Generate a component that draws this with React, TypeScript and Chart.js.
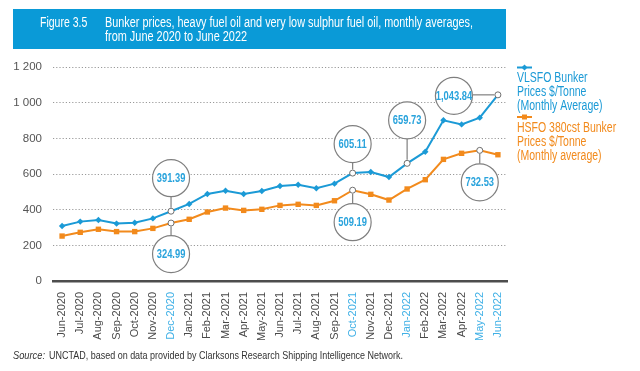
import React, { useEffect, useRef } from 'react';
import { Chart, registerables } from 'chart.js';

Chart.register(...registerables);

const categories = [
  'Jun-2020', 'Jul-2020', 'Aug-2020', 'Sep-2020', 'Oct-2020', 'Nov-2020', 'Dec-2020',
  'Jan-2021', 'Feb-2021', 'Mar-2021', 'Apr-2021', 'May-2021', 'Jun-2021', 'Jul-2021',
  'Aug-2021', 'Sep-2021', 'Oct-2021', 'Nov-2021', 'Dec-2021',
  'Jan-2022', 'Feb-2022', 'Mar-2022', 'Apr-2022', 'May-2022', 'Jun-2022',
];

const vlsfo = [
  308, 333, 342, 322, 327, 351, 391.39,
  432, 488, 506, 488, 505, 533, 540, 520, 546, 605.11, 611, 583,
  659.73, 725, 901, 878, 916, 1043.84,
];

const hsfo = [
  252, 273, 290, 277, 277, 295, 324.99,
  346, 387, 409, 396, 402, 424, 430, 424, 450, 509.19, 486, 454,
  516, 568, 682, 716, 732.53, 708,
];

const yTicks = [0, 200, 400, 600, 800, 1000, 1200];

const vlsfoLabelLines = ['VLSFO Bunker', 'Prices $/Tonne', '(Monthly Average)'];
const hsfoLabelLines = ['HSFO 380cst Bunker', 'Prices $/Tonne', '(Monthly average)'];

const vlsfoAnnotated = [6, 16, 19, 24];
const hsfoAnnotated = [6, 16, 23];
const highlightedLabels = [6, 16, 19, 23, 24];

const titleNumber = 'Figure 3.5';
const titleLines = [
  'Bunker prices, heavy fuel oil and very low sulphur fuel oil, monthly averages,',
  'from June 2020 to June 2022',
];
const sourceLabel = 'Source:';
const sourceText = 'UNCTAD, based on data provided by Clarksons Research Shipping Intelligence Network.';

// style
const BLUE = '#1b9ad6';
const ORANGE = '#f28a1c';
const ANN_TEXT = '#29a3dc';
const BAR = '#0a9ad7';
const FONT = "'Liberation Sans', Arial, sans-serif";

// annotation bubble placement (pixel offsets from the point)
const annotationStyle: { ds: number; idx: number; dx: number; dy: number }[] = [
  { ds: 0, idx: 6, dx: 0, dy: -33 },
  { ds: 0, idx: 16, dx: 0, dy: -29 },
  { ds: 0, idx: 19, dx: 0, dy: -43 },
  { ds: 0, idx: 24, dx: -44, dy: 1 },
  { ds: 1, idx: 6, dx: 0, dy: 31 },
  { ds: 1, idx: 16, dx: 0, dy: 32 },
  { ds: 1, idx: 23, dx: 0, dy: 32 },
];

const fmt = (v: number) =>
  v.toLocaleString('en-US', { minimumFractionDigits: 2, maximumFractionDigits: 2 });

// condensed text: draw with a horizontal squeeze factor
const fillCond = (ctx: CanvasRenderingContext2D, text: string, x: number, y: number, f: number) => {
  const w = ctx.measureText(text).width;
  ctx.fillText(text, x, y, w * f);
};

const decorPlugin = {
  id: 'decor',
  beforeDraw(chart: any) {
    const ctx = chart.ctx as CanvasRenderingContext2D;
    ctx.save();
    ctx.fillStyle = '#ffffff';
    ctx.fillRect(0, 0, chart.width, chart.height);
    ctx.fillStyle = BAR;
    ctx.fillRect(13, 9, 493, 40);
    ctx.fillStyle = '#ffffff';
    ctx.font = `14px ${FONT}`;
    ctx.textBaseline = 'middle';
    ctx.textAlign = 'left';
    fillCond(ctx, titleNumber, 40, 23.5, 0.75);
    ctx.fillText(titleLines[0], 105, 23.5, 368);
    fillCond(ctx, titleLines[1], 105, 37.5, 0.78);

    // source
    ctx.fillStyle = '#333333';
    ctx.font = `italic 11px ${FONT}`;
    ctx.fillText(sourceLabel, 13, 356, 32);
    ctx.font = `11px ${FONT}`;
    ctx.fillText(sourceText, 49, 356, 354);
    ctx.restore();
  },
  afterDatasetsDraw(chart: any) {
    const ctx = chart.ctx as CanvasRenderingContext2D;
    ctx.save();
    const r = 18.5;
    for (const a of annotationStyle) {
      const el = chart.getDatasetMeta(a.ds).data[a.idx];
      const px = el.x;
      const py = el.y;
      const cx = px + a.dx;
      const cy = py + a.dy;
      ctx.strokeStyle = '#7f7f7f';
      ctx.lineWidth = 1.2;
      ctx.beginPath();
      if (a.dx === 0) {
        const s = Math.sign(a.dy);
        ctx.moveTo(px, py + s * 3.5);
        ctx.lineTo(cx, cy - s * r);
      } else {
        ctx.moveTo(px - 3.5, py);
        ctx.lineTo(cx + r, py);
      }
      ctx.stroke();
      ctx.beginPath();
      ctx.arc(cx, cy, r, 0, Math.PI * 2);
      ctx.fillStyle = '#ffffff';
      ctx.fill();
      ctx.stroke();
      ctx.fillStyle = ANN_TEXT;
      ctx.font = `bold 12px ${FONT}`;
      ctx.textAlign = 'center';
      ctx.textBaseline = 'middle';
      const v = (a.ds === 0 ? vlsfo : hsfo)[a.idx];
      fillCond(ctx, fmt(v), cx, cy + 0.5, 0.78);
    }
    ctx.restore();
  },
  afterDraw(chart: any) {
    const ctx = chart.ctx as CanvasRenderingContext2D;
    ctx.save();
    const drawEntry = (y: number, color: string, style: string, lines: string[]) => {
      ctx.strokeStyle = color;
      ctx.fillStyle = color;
      ctx.lineWidth = 2;
      ctx.beginPath();
      ctx.moveTo(517, y);
      ctx.lineTo(532, y);
      ctx.stroke();
      ctx.beginPath();
      if (style === 'rectRot') {
        ctx.moveTo(524.5, y - 3);
        ctx.lineTo(527.5, y);
        ctx.lineTo(524.5, y + 3);
        ctx.lineTo(521.5, y);
        ctx.closePath();
      } else {
        ctx.rect(522, y - 2.5, 5, 5);
      }
      ctx.fill();
      ctx.font = `14px ${FONT}`;
      ctx.textAlign = 'left';
      ctx.textBaseline = 'middle';
      lines.forEach((t, i) => fillCond(ctx, t, 517, y + 11 + i * 14, 0.75));
    };
    drawEntry(67.5, BLUE, 'rectRot', vlsfoLabelLines);
    drawEntry(117, ORANGE, 'rect', hsfoLabelLines);
    ctx.restore();
  },
};

export default function App() {
  const ref = useRef<HTMLCanvasElement>(null);

  useEffect(() => {
    const isV = (i: number) => vlsfoAnnotated.includes(i);
    const isH = (i: number) => hsfoAnnotated.includes(i);
    const chart = new Chart(ref.current as HTMLCanvasElement, {
      type: 'line',
      data: {
        labels: categories,
        datasets: [
          {
            label: vlsfoLabelLines.join(' '),
            data: vlsfo,
            borderColor: BLUE,
            backgroundColor: BLUE,
            borderWidth: 2,
            tension: 0,
            pointStyle: (c: any) => (isV(c.dataIndex) ? 'circle' : 'rectRot'),
            pointRadius: (c: any) => (isV(c.dataIndex) ? 3 : 3.2),
            pointBackgroundColor: (c: any) => (isV(c.dataIndex) ? '#ffffff' : BLUE),
            pointBorderColor: (c: any) => (isV(c.dataIndex) ? '#6f6f6f' : BLUE),
            pointBorderWidth: (c: any) => (isV(c.dataIndex) ? 1 : 0),
          },
          {
            label: hsfoLabelLines.join(' '),
            data: hsfo,
            borderColor: ORANGE,
            backgroundColor: ORANGE,
            borderWidth: 2,
            tension: 0,
            pointStyle: (c: any) => (isH(c.dataIndex) ? 'circle' : 'rect'),
            pointRadius: (c: any) => (isH(c.dataIndex) ? 3 : 3.8),
            pointBackgroundColor: (c: any) => (isH(c.dataIndex) ? '#ffffff' : ORANGE),
            pointBorderColor: (c: any) => (isH(c.dataIndex) ? '#6f6f6f' : ORANGE),
            pointBorderWidth: (c: any) => (isH(c.dataIndex) ? 1 : 0),
          },
        ],
      },
      options: {
        responsive: false,
        animation: false,
        devicePixelRatio: 1,
        layout: { padding: { left: 0, right: 133, top: 67, bottom: 0 } },
        plugins: {
          legend: { display: false },
          tooltip: { enabled: false },
        },
        scales: {
          x: {
            type: 'category',
            offset: true,
            grid: { display: false, drawTicks: false },
            border: { display: true, color: '#4d4d4d', width: 2.5 },
            ticks: {
              autoSkip: false,
              maxRotation: 90,
              minRotation: 90,
              padding: 11,
              font: { family: FONT, size: 11 },
              color: (c: any) => (highlightedLabels.includes(c.index) ? '#3fb0e6' : '#4a4a4a'),
            },
            afterFit: (s: any) => {
              s.height = 90;
            },
          },
          y: {
            min: yTicks[0],
            max: yTicks[yTicks.length - 1],
            afterBuildTicks: (s: any) => {
              s.ticks = yTicks.map((v) => ({ value: v }));
            },
            grid: { color: '#9a9a9a', lineWidth: 1, drawTicks: false },
            border: { display: false, dash: [1.2, 2] },
            ticks: {
              padding: 11,
              color: '#555555',
              font: { family: FONT, size: 11.5 },
              callback: (v: any) => String(v).replace(/\B(?=(\d{3})+(?!\d))/g, ' '),
            },
            afterFit: (s: any) => {
              s.width = 53;
            },
          },
        },
      },
      plugins: [decorPlugin],
    });
    return () => chart.destroy();
  }, []);

  return (
    <div style={{ position: 'fixed', left: 0, top: 0, width: 640, height: 371, background: '#fff' }}>
      <canvas ref={ref} width={640} height={371} style={{ display: 'block', width: 640, height: 371 }} />
    </div>
  );
}
